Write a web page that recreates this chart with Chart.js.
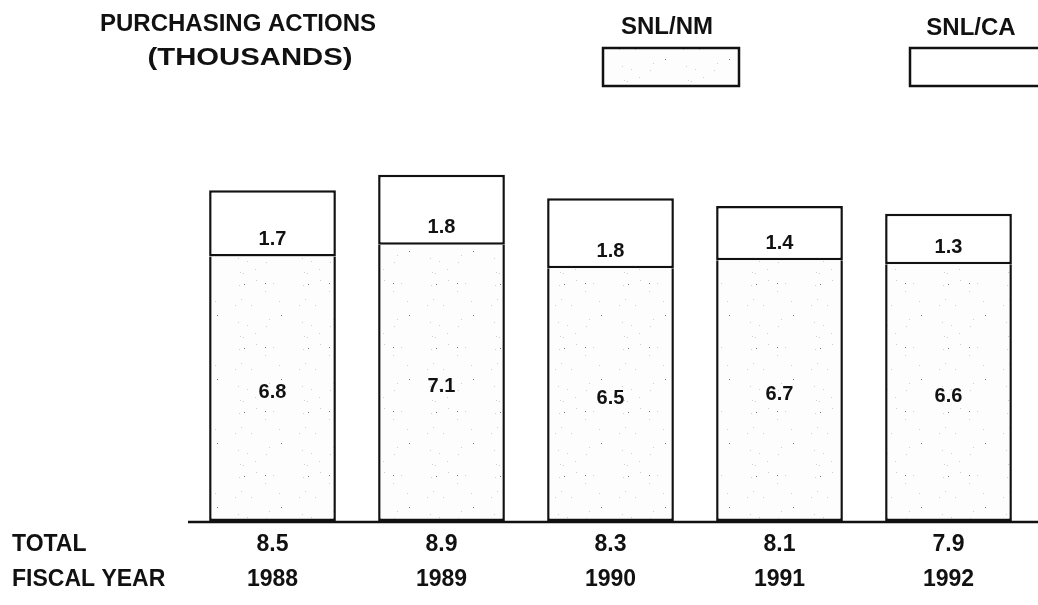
<html lang="en">
<head>
<meta charset="UTF-8">
<title>Purchasing actions</title>
<script src="https://cdn.jsdelivr.net/npm/chart.js"></script>
<style>
  body { margin: 0; background: #fff; }
  #wrap { width: 1038px; height: 605px; }
</style>
</head>
<body>
<div id="wrap"><canvas id="myChart" width="1038" height="605"></canvas></div>

<script>
// data (thousands of purchasing actions)
const years = ['1988', '1989', '1990', '1991', '1992'];
const snlNM = [6.8, 7.1, 6.5, 6.7, 6.6];
const snlCA = [1.7, 1.8, 1.8, 1.4, 1.3];
const totals = ['8.5', '8.9', '8.3', '8.1', '7.9'];

const FONT = '"Liberation Sans", Arial, Helvetica, sans-serif';
const INK = '#111';

// light stipple, like the scanned grey tone
function makeStipple() {
  let c = document.createElement('canvas');
  c.width = 64; c.height = 64;
  let g = c.getContext('2d');
  g.fillStyle = '#fdfdfd';
  g.fillRect(0, 0, 64, 64);
  let s = 7;
  for (let i = 0; i < 18; i++) {
    s = (s * 37 + 11) % 101;
    let x = (s * 13 + i * 23) % 64;
    let y = (s * 7 + i * 29) % 64;
    g.fillStyle = i % 6 == 0 ? '#777' : '#cfcfcf';
    g.fillRect(x, y, 1, 1);
  }
  return g.createPattern(c, 'repeat');
}
const stipple = makeStipple();

// title, legend, labels and bottom rows
const textPlugin = {
  id: 'textPlugin',
  afterDraw(chart) {
    let ctx = chart.ctx;
    let area = chart.chartArea;
    ctx.save();
    ctx.fillStyle = INK;
    ctx.strokeStyle = INK;

    // base line, running off to the right edge
    ctx.lineWidth = 2.5;
    ctx.beginPath();
    ctx.moveTo(area.left, area.bottom + 1);
    ctx.lineTo(chart.width, area.bottom + 1);
    ctx.stroke();

    // title
    ctx.textAlign = 'center';
    ctx.textBaseline = 'middle';
    ctx.font = 'bold 24px ' + FONT;
    ctx.fillText('PURCHASING ACTIONS', 238, 24);
    // second line is set wider in the original
    ctx.save();
    ctx.translate(250, 58);
    ctx.scale(1.22, 1);
    ctx.fillText('(THOUSANDS)', 0, 0);
    ctx.restore();

    // legend
    ctx.font = 'bold 24px ' + FONT;
    ctx.fillText('SNL/NM', 667, 27);
    ctx.fillText('SNL/CA', 971, 28);
    ctx.lineWidth = 2.5;
    ctx.fillStyle = stipple;
    ctx.fillRect(603, 48, 136, 38);
    ctx.strokeRect(603, 48, 136, 38);
    ctx.fillStyle = '#fff';
    ctx.fillRect(910, 48, 140, 38);
    ctx.strokeRect(910, 48, 140, 38);

    // value labels inside the bars
    let nm = chart.getDatasetMeta(0).data;
    let ca = chart.getDatasetMeta(1).data;
    ctx.fillStyle = INK;
    ctx.font = 'bold 20px ' + FONT;
    nm.forEach((bar, i) => {
      ctx.fillText(snlNM[i].toFixed(1), bar.x, (bar.y + bar.base) / 2 + 4);
      ctx.fillText(snlCA[i].toFixed(1), ca[i].x, ca[i].base - 17);
    });

    // bottom rows
    ctx.font = 'bold 23px ' + FONT;
    ctx.textAlign = 'left';
    ctx.fillText('TOTAL', 12, 545);
    ctx.fillText('FISCAL YEAR', 12, 580);
    ctx.textAlign = 'center';
    nm.forEach((bar, i) => {
      ctx.fillText(totals[i], bar.x, 545);
      ctx.fillText(years[i], bar.x, 580);
    });
    ctx.restore();
  }
};

let ctx = document.getElementById('myChart').getContext('2d');
let myChart = new Chart(ctx, {
  type: 'bar',
  data: {
    labels: years,
    datasets: [
      {
        label: 'SNL/NM',
        data: snlNM,
        backgroundColor: stipple,
        borderColor: INK,
        borderWidth: 2.5,
        borderSkipped: 'end'
      },
      {
        label: 'SNL/CA',
        data: snlCA,
        backgroundColor: '#fff',
        borderColor: INK,
        borderWidth: 2.5,
        borderSkipped: false
      }
    ]
  },
  options: {
    responsive: false,
    animation: false,
    layout: { padding: { left: 188, right: 5, top: 132, bottom: 84 } },
    datasets: { bar: { barPercentage: 0.75, categoryPercentage: 1 } },
    plugins: {
      legend: { display: false },
      tooltip: { enabled: false }
    },
    scales: {
      x: { stacked: true, display: false },
      y: { stacked: true, display: false, min: 0, max: 10 }
    }
  },
  plugins: [textPlugin]
});
</script>
</body>
</html>
